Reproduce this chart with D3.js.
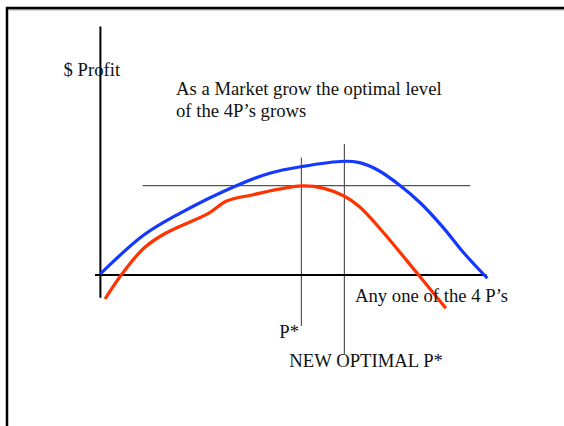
<!DOCTYPE html>
<html>
<head>
<meta charset="utf-8">
<script src="https://cdn.jsdelivr.net/npm/d3@7"></script>
<style>
  body { margin: 0; background: white; }
  svg text { font-family: "Liberation Serif", "Times New Roman", serif; fill: #111; }
</style>
</head>
<body>
<div id="viz"></div>
<script>
// profit curves, x = level of one of the 4 P's (0-100), y = profit (arbitrary units)
const blueX = [0, 11.2, 20.5, 34.5, 43.7, 51.9, 62.9, 66.9, 71.6, 77.2, 82.7, 88.3, 93.9, 99.9];
const blueY = [1, 33.3, 51.4, 73.6, 84.8, 90.3, 94.8, 93.6, 87.5, 75, 59.8, 40.3, 18.1, -2.7];
const redX = [1.2, 5.7, 11.2, 16.8, 27.9, 32.6, 39.1, 51.9, 57.7, 62.9, 66.9, 72.5, 81.8, 89.2];
const redY = [-20, 1.4, 22.3, 34.8, 51.4, 61.7, 66.7, 74.2, 72.2, 65.8, 56.9, 37.5, 1.4, -27.8];

// reference lines
const oldOptX = 51.9;
const newOptX = 63;
const oldMaxY = 74.4;

const labels = {
  yTitle: "$ Profit",
  note1: "As a Market grow the optimal level",
  note2: "of the 4P\u2019s grows",
  xTitle: "Any one of the 4 P\u2019s",
  oldOpt: "P*",
  newOpt: "NEW OPTIMAL P*"
};

const width = 564, height = 426;

const svg = d3.select("#viz").append("svg")
  .attr("width", width)
  .attr("height", height);

// slide frame
svg.append("path")
  .attr("d", "M7,426V8H564")
  .attr("fill", "none")
  .attr("stroke", "black")
  .attr("stroke-width", 2.5);
svg.append("line")
  .attr("x1", 8).attr("x2", 564).attr("y1", 9.8).attr("y2", 9.8)
  .attr("stroke", "#777").attr("stroke-width", 1);

const x = d3.scaleLinear().domain([0, 100]).range([100.4, 487.7]);
const y = d3.scaleLinear().domain([0, 100]).range([275, 155]);

// gray guide lines
const guides = svg.append("g").attr("stroke", "#555").attr("stroke-width", 1.2);
guides.append("line")
  .attr("x1", x(10.9)).attr("x2", x(95.5))
  .attr("y1", y(oldMaxY)).attr("y2", y(oldMaxY));
guides.append("line")
  .attr("x1", x(oldOptX)).attr("x2", x(oldOptX))
  .attr("y1", y(97.8)).attr("y2", y(-42.5));
guides.append("line")
  .attr("x1", x(newOptX)).attr("x2", x(newOptX))
  .attr("y1", y(109.2)).attr("y2", y(-65.8));

// axes
svg.append("line")
  .attr("x1", x(0)).attr("x2", x(0))
  .attr("y1", y(207)).attr("y2", y(-19))
  .attr("stroke", "black").attr("stroke-width", 2);
svg.append("line")
  .attr("x1", x(-1.4)).attr("x2", x(99.7))
  .attr("y1", y(0)).attr("y2", y(0))
  .attr("stroke", "black").attr("stroke-width", 2);

const line = d3.line()
  .x(d => x(d[0]))
  .y(d => y(d[1]))
  .curve(d3.curveCatmullRom);

svg.append("path")
  .attr("d", line(redX.map((v, i) => [v, redY[i]])))
  .attr("fill", "none")
  .attr("stroke", "#ff3300")
  .attr("stroke-width", 3.2);

svg.append("path")
  .attr("d", line(blueX.map((v, i) => [v, blueY[i]])))
  .attr("fill", "none")
  .attr("stroke", "#1438ff")
  .attr("stroke-width", 3.2);

// texts
const fs = "18.7px";
svg.append("text").attr("x", 63.5).attr("y", 76).style("font-size", fs).text(labels.yTitle);
svg.append("text").attr("x", 176).attr("y", 95).style("font-size", fs).text(labels.note1);
svg.append("text").attr("x", 176).attr("y", 117).style("font-size", fs).text(labels.note2);
svg.append("text").attr("x", 355).attr("y", 302).style("font-size", fs).text(labels.xTitle);
svg.append("text").attr("x", 279.3).attr("y", 338).style("font-size", fs).text(labels.oldOpt);
svg.append("text").attr("x", 289.3).attr("y", 367).style("font-size", fs).text(labels.newOpt);
</script>
</body>
</html>
